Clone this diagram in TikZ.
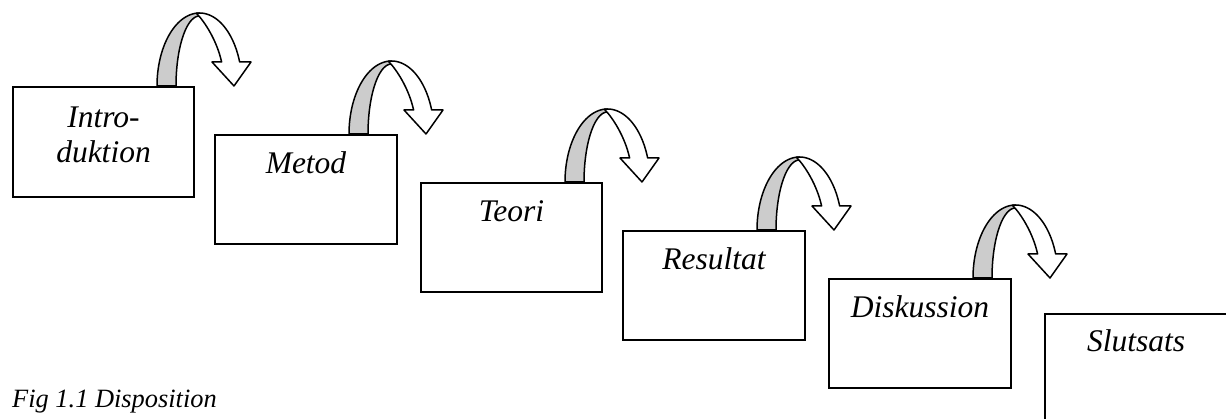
\documentclass[tikz,border=0pt]{standalone}
\usepackage{fontspec}
\setmainfont{Liberation Serif}
\usetikzlibrary{calc}

\tikzset{
  stepbox/.style={draw=black, line width=2pt, fill=white, inner sep=0pt,
    minimum width=182pt, minimum height=109pt},
  lbl/.style={inner sep=0pt, anchor=base, font=\fontsize{31.5}{35}\selectfont\itshape},
  caption/.style={inner sep=0pt, anchor=base west, font=\fontsize{26.4}{30}\selectfont\itshape},
  band/.style={draw=black, line width=1.5pt, line join=round},
  % curved block arrow: origin at the left foot of the band, on the box top
  bendarrow/.pic={
    % shaded back of the band
    \filldraw[band, fill=gray!40]
      plot[domain=180:90, samples=40] ({42.5+42.5*cos(\x)}, {-73*sin(\x)})
      -- plot[domain=90:180, samples=40] ({42.5+23.5*cos(\x)}, {-70*sin(\x)})
      -- cycle;
    % white front of the band with its head
    \filldraw[band, fill=white]
      plot[domain=93:19.2, samples=40] ({42.5+42.5*cos(\x)}, {-73*sin(\x)})
      -- (94,-24) -- (77,0) -- (55,-24) -- (64.6,-24)
      .. controls (60,-45) and (48,-64) .. (39.5,-72.6)
      -- cycle;
  }
}

\begin{document}
\begin{tikzpicture}[x=1pt, y=-1pt]
  \useasboundingbox (0,0) rectangle (1226,419);

  % the six chapter boxes, stepping down to the right
  \node[stepbox, minimum width=181pt, minimum height=110pt] (b1) at (103.5,142) {};
  \node[stepbox] (b2) at (306,189.5) {};
  \node[stepbox, minimum width=181pt] (b3) at (511.5,237.5) {};
  \node[stepbox] (b4) at (714,285.5) {};
  \node[stepbox] (b5) at (920,333.5) {};
  \node[stepbox] (b6) at (1136,368.5) {};

  % chapter titles
  \node[lbl] (t1a) at ($(b1.north)+(0,42)$) {Intro-};
  \node[lbl] (t1b) at ($(b1.north)+(0,77)$) {duktion};
  \node[lbl] (t2) at ($(b2.north)+(0,40)$) {Metod};
  \node[lbl] (t3) at ($(b3.north)+(0,40)$) {Teori};
  \node[lbl] (t4) at ($(b4.north)+(0,40)$) {Resultat};
  \node[lbl] (t5) at ($(b5.north)+(0,40)$) {Diskussion};
  \node[lbl] (t6) at ($(b6.north)+(0,39)$) {Slutsats};

  % curved arrows leading from each box to the next
  \pic at (b1.north -| 157,0) {bendarrow};
  \pic at (b2.north -| 349,0) {bendarrow};
  \pic at (b3.north -| 565,0) {bendarrow};
  \pic at (b4.north -| 757,0) {bendarrow};
  \pic at (b5.north -| 973,0) {bendarrow};

  \node[caption] (cap) at (12,407) {Fig 1.1 Disposition};
\end{tikzpicture}
\end{document}
